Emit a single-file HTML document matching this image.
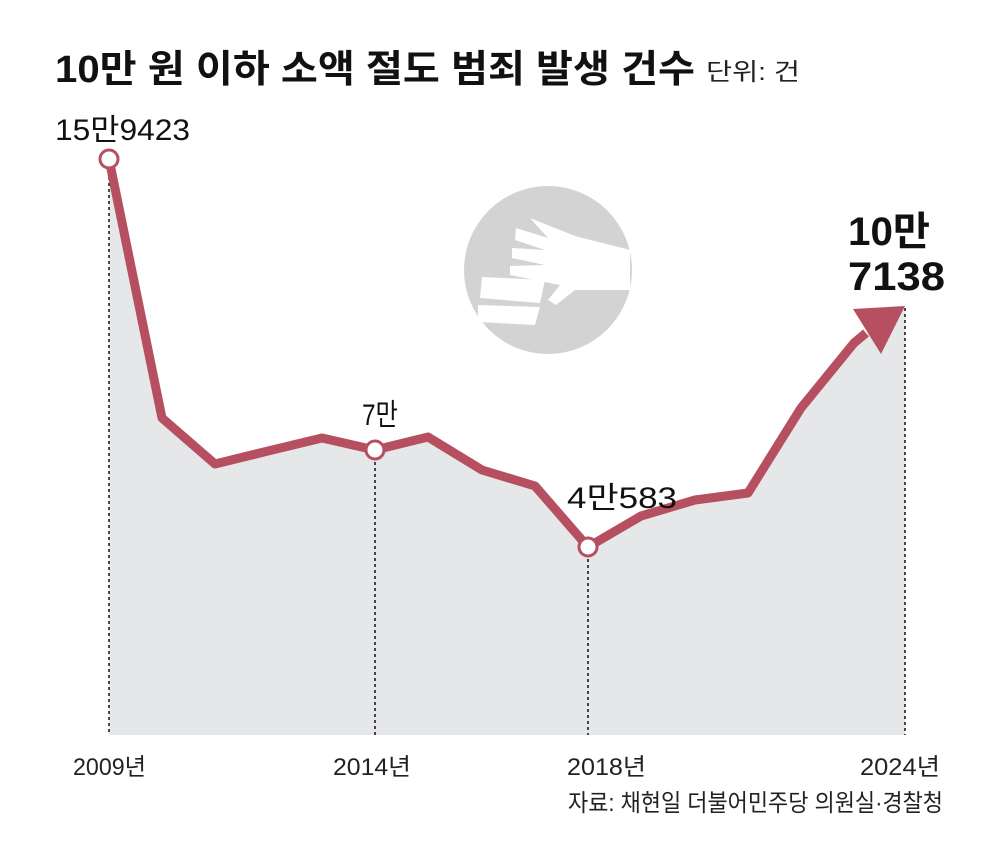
<!DOCTYPE html>
<html><head><meta charset="utf-8"><style>
body{margin:0;background:#fff;width:1000px;height:856px;overflow:hidden}
svg text{font-family:"Liberation Sans","Noto Sans CJK KR",sans-serif}
</style></head><body>
<svg width="1000" height="856" viewBox="0 0 1000 856">
<rect width="1000" height="856" fill="#fff"/>
<text x="55" y="82" font-size="38" font-weight="bold" fill="#111" textLength="640" lengthAdjust="spacingAndGlyphs">10만 원 이하 소액 절도 범죄 발생 건수</text>
<text x="706" y="80" font-size="24" fill="#222" textLength="94" lengthAdjust="spacingAndGlyphs">단위: 건</text>
<polygon fill="#e6e7e9" points="109,159 162,418 215,464 268,451 322,438 375,450 428,437 482,470 535,486 588,547 641,516 695,500 748,493 801,408 854,343 905,308 905,735 109,735"/>
<g fill="#d3d3d3"><circle cx="548" cy="270" r="84"/></g>
<g fill="#fff">
<polygon points="530,218 575,236 630,250 630,290 575,290 556,305 548,300 560,285 510,275 510,266 545,265 512,258 512,248 545,250 515,240 516,228 548,238"/>
<polygon points="482,277 545,280 540,303 480,298"/>
<polygon points="478,305 540,307 535,325 478,322"/>
</g>
<g stroke="#111" stroke-width="1.5" stroke-dasharray="3,3">
<line x1="109" y1="165" x2="109" y2="735"/><line x1="375" y1="456" x2="375" y2="735"/><line x1="588" y1="553" x2="588" y2="735"/><line x1="905" y1="308" x2="905" y2="735"/>
</g>
<polyline fill="none" stroke="#b65060" stroke-width="9" stroke-linejoin="round" points="109,159 162,418 215,464 268,451 322,438 375,450 428,437 482,470 535,486 588,547 641,516 695,500 748,493 801,408 854,343 866,333"/>
<polygon fill="#b65060" points="853,309 905,306 881,354"/>
<g fill="#fff" stroke="#b65060" stroke-width="3">
<circle cx="109" cy="159" r="9"/><circle cx="375" cy="450" r="9"/><circle cx="588" cy="547" r="9"/>
</g>
<g font-size="30" fill="#111">
<text x="55" y="140" textLength="135" lengthAdjust="spacingAndGlyphs">15만9423</text>
<text x="362" y="425" textLength="36" lengthAdjust="spacingAndGlyphs">7만</text>
<text x="567" y="508" textLength="110" lengthAdjust="spacingAndGlyphs">4만583</text>
</g>
<text x="848" y="245" font-size="40" font-weight="bold" fill="#111" textLength="82" lengthAdjust="spacingAndGlyphs">10만</text>
<text x="848" y="290" font-size="40" font-weight="bold" fill="#111" textLength="97" lengthAdjust="spacingAndGlyphs">7138</text>
<g font-size="24" fill="#222">
<text x="73" y="775" textLength="73" lengthAdjust="spacingAndGlyphs">2009년</text><text x="333" y="775" textLength="78" lengthAdjust="spacingAndGlyphs">2014년</text><text x="567" y="775" textLength="79" lengthAdjust="spacingAndGlyphs">2018년</text><text x="860" y="775" textLength="80" lengthAdjust="spacingAndGlyphs">2024년</text>
</g>
<text x="568" y="811" font-size="24" fill="#222" textLength="375" lengthAdjust="spacingAndGlyphs">자료: 채현일 더불어민주당 의원실·경찰청</text>
</svg>
</body></html>
